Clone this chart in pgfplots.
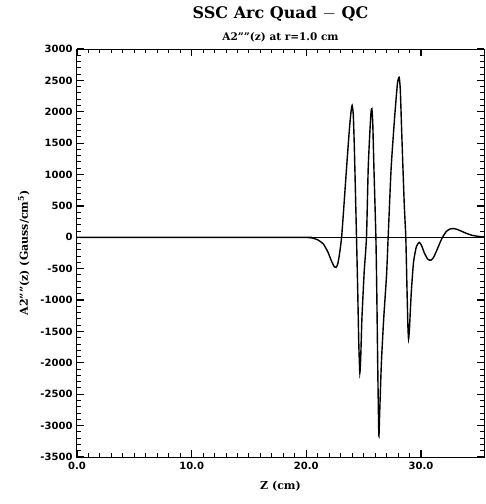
\documentclass[border=0pt]{standalone}
\usepackage{fontspec}
\setmainfont{DejaVu Serif}
\newfontfamily\tickfont{DejaVu Sans}
\usepackage{pgfplots}
\pgfplotsset{compat=1.18}
\begin{document}
\begin{tikzpicture}
\useasboundingbox (-77pt,-47pt) rectangle (409pt,457pt);
\begin{axis}[
  at={(0pt,0pt)}, anchor=south west,
  scale only axis, width=407pt, height=408pt,
  xmin=0, xmax=35.5, ymin=-3500, ymax=3000,
  xtick={0,10,20,30}, minor x tick num=9,
  ytick={-3500,-3000,...,3000}, minor y tick num=4,
  xtick align=inside, ytick align=inside,
  xtick pos=both, ytick pos=both,
  major tick length=7pt, minor tick length=4pt,
  axis line style={line width=1pt},
  major tick style={draw=black, line width=1.2pt},
  minor tick style={draw=black, line width=1pt},
  /pgf/number format/assume math mode=true,
  /pgf/number format/1000 sep={},
  xticklabel style={/pgf/number format/fixed, /pgf/number format/fixed zerofill, /pgf/number format/precision=1, font=\tickfont\bfseries\fontsize{10}{12}\selectfont, yshift=-2pt},
  yticklabel style={font=\tickfont\bfseries\fontsize{10}{12}\selectfont, xshift=-1pt},
  xlabel={\bfseries Z (cm)},
  xlabel style={font=\fontsize{11}{13}\selectfont, yshift=-4pt},
  ylabel={\bfseries A2''''(z) (Gauss/cm$^{\mathbf{5}}$)},
  ylabel style={font=\fontsize{11}{13}\selectfont, yshift=4pt},
  clip=true,
]
\addplot[black, line width=1.1pt] coordinates {(0,0) (35.5,0)};
\addplot[black, line width=1.4pt, smooth, tension=0.35] coordinates {
(0,0) (19.5,0) (20.0,-2) (20.5,-10) (21.0,-40) (21.5,-110) (21.9,-240)
(22.2,-380) (22.45,-470) (22.6,-480) (22.75,-420) (22.9,-260) (23.08,0)
(23.3,550) (23.51,1100) (23.75,1700) (23.9,2000) (24.0,2100) (24.1,1950)
(24.18,1500) (24.25,1000) (24.38,0) (24.48,-800) (24.58,-1700) (24.67,-2160)
(24.75,-1900) (24.85,-1300) (25.05,-550) (25.25,0) (25.4,1100) (25.55,1700)
(25.65,2000) (25.72,2050) (25.8,1800) (25.9,1100) (26.07,0) (26.15,-900)
(26.25,-2300) (26.33,-3160) (26.4,-2800) (26.55,-2000) (26.75,-1300)
(27.0,-600) (27.14,0) (27.4,1100) (27.7,1900) (27.95,2450) (28.1,2550)
(28.2,2350) (28.3,1800) (28.4,1260) (28.55,500) (28.68,0) (28.78,-800)
(28.86,-1400) (28.92,-1620) (29.0,-1450) (29.15,-900) (29.35,-400)
(29.6,-150) (29.85,-80) (30.05,-130) (30.3,-250) (30.6,-350) (30.86,-365)
(31.1,-320) (31.4,-200) (31.65,-90) (31.88,0) (32.2,90) (32.5,130)
(32.8,140) (33.1,130) (33.5,100) (34.0,60) (34.5,30) (35.0,15) (35.5,5)
};
\end{axis}
\node[font=\bfseries\fontsize{16}{19}\selectfont] at (203.5pt,443pt) {SSC Arc Quad $-$ QC};
\node[font=\bfseries\fontsize{10.5}{12}\selectfont] at (203.5pt,420pt) {A2''''(z) at r=1.0 cm};
\end{tikzpicture}
\end{document}
